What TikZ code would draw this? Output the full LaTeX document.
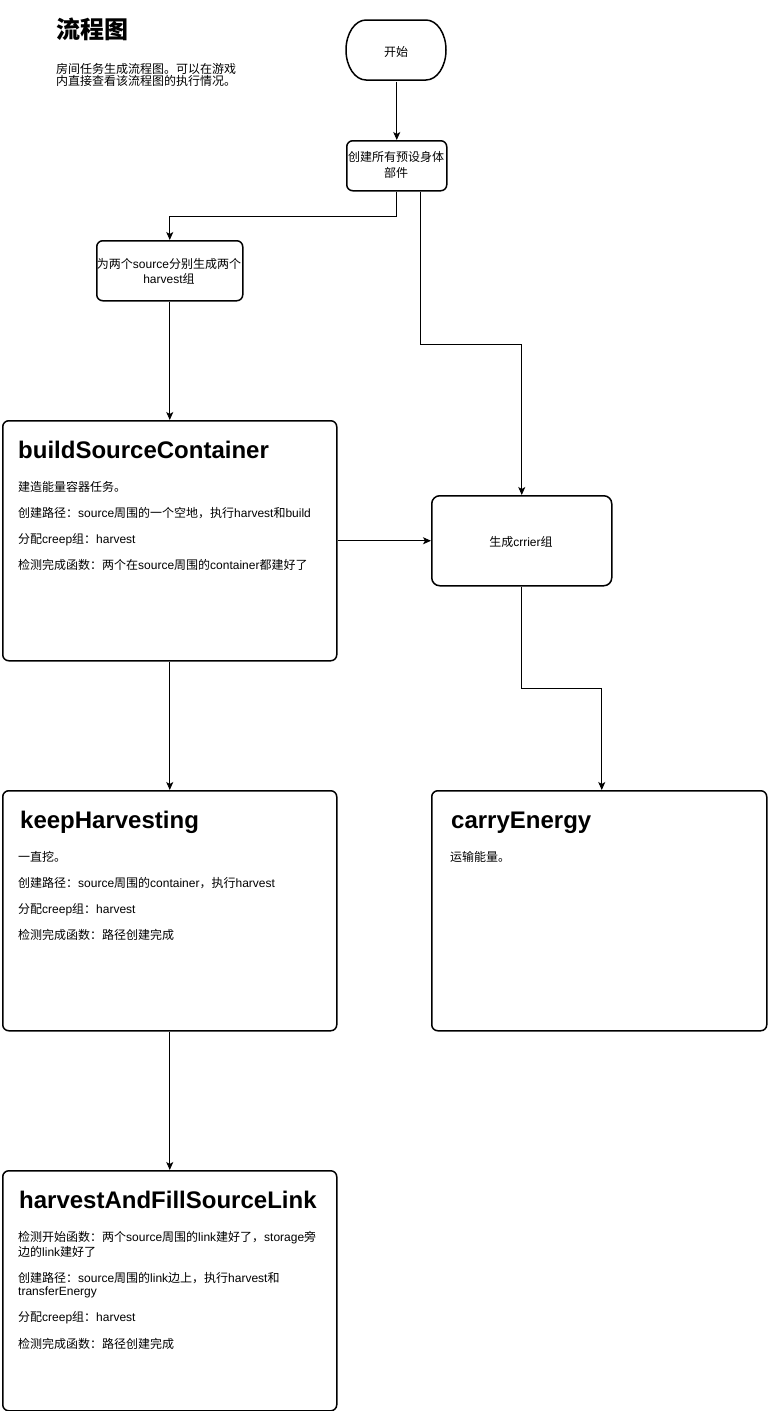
\documentclass[tikz,border=0pt]{standalone}
\usepackage{fontspec}
\setmainfont{Liberation Sans}
\newfontfamily\cjkfont{Noto Sans CJK SC}
\usetikzlibrary{arrows.meta}
\XeTeXinterchartokenstate=1
\newXeTeXintercharclass\cjkclass
\newcount\cjkc
\def\setcjkrange#1#2{\cjkc=#1 \loop \XeTeXcharclass\cjkc=\cjkclass \ifnum\cjkc<#2 \advance\cjkc by 1 \repeat}
\setcjkrange{"4E00}{"9FFF}
\setcjkrange{"3000}{"303F}
\setcjkrange{"FF00}{"FFEF}
\XeTeXinterchartoks 0 \cjkclass = {\cjkfont}
\XeTeXinterchartoks 4095 \cjkclass = {\cjkfont}
\XeTeXinterchartoks \cjkclass 0 = {\rmfamily}
\XeTeXinterchartoks \cjkclass 4095 = {\rmfamily}
\begin{document}
\begin{tikzpicture}[x=1pt,y=-1pt,
  box/.style={draw, line width=1.5pt, rounded corners=6pt, inner sep=0pt, anchor=north west},
  outline/.style={line width=1.5pt},
  conn/.style={line width=0.9pt, -{Stealth[length=8pt,width=7pt,inset=2pt]}},
  body/.style={anchor=base west, inner sep=0pt, font=\fontsize{12}{14}\selectfont},
  head/.style={anchor=base west, inner sep=0pt, font=\fontsize{24}{28}\selectfont\bfseries},
  lbl/.style={anchor=base, inner sep=0pt, font=\fontsize{12}{14}\selectfont}]
\useasboundingbox (0,0) rectangle (768,1411);

% heading
\node[anchor=base west, inner sep=0pt] (title) at (56,38.5) {\XeTeXinterchartokenstate=0 \cjkfont\bfseries\fontsize{24}{28}\selectfont 流程图};
\node[body] (d1) at (56,73) {房间任务生成流程图。可以在游戏};
\node[body] (d2) at (56,85) {内直接查看该流程图的执行情况。};

% boxes
\node[box, draw=none, minimum width=100pt, minimum height=60pt] (start) at (346,20) {};
\draw[outline] (366,20) -- (426,20)
  .. controls (437,20) and (446,33.4) .. (446,50)
  .. controls (446,66.6) and (437,80) .. (426,80)
  -- (366,80)
  .. controls (355,80) and (346,66.6) .. (346,50)
  .. controls (346,33.4) and (355,20) .. (366,20) -- cycle;
\node[box, minimum width=100pt, minimum height=50pt] (create) at (346,140) {};
\node[box, minimum width=146pt, minimum height=60pt] (split) at (96,240) {};
\node[box, minimum width=180pt, minimum height=90pt, rounded corners=8pt] (carrier) at (431,495) {};
\node[box, minimum width=334pt, minimum height=240pt] (bsc) at (2,420) {};
\node[box, minimum width=334pt, minimum height=240pt] (keep) at (2,790) {};
\node[box, minimum width=335pt, minimum height=240pt] (carry) at (431,790) {};
\node[box, minimum width=334pt, minimum height=240pt] (hafl) at (2,1170) {};

% small box labels
\node[lbl] (tstart) at (396,56) {开始};
\node[lbl] (tc1) at (396,161) {创建所有预设身体};
\node[lbl] (tc2) at (396,177.5) {部件};
\node[lbl] (ts1) at (169,268) {为两个source分别生成两个};
\node[lbl] (ts2) at (169,283) {harvest组};
\node[lbl] (tcar) at (521,546) {生成crrier组};

% buildSourceContainer
\node[head] (h1) at (18,458.5) {buildSourceContainer};
\node[body] (b11) at (18,491) {建造能量容器任务。};
\node[body] (b12) at (18,517) {创建路径：source周围的一个空地，执行harvest和build};
\node[body] (b13) at (18,543.5) {分配creep组：harvest};
\node[body] (b14) at (18,569) {检测完成函数：两个在source周围的container都建好了};

% keepHarvesting
\node[head] (h2) at (20,828.5) {keepHarvesting};
\node[body] (b21) at (18,861) {一直挖。};
\node[body] (b22) at (18,887) {创建路径：source周围的container，执行harvest};
\node[body] (b23) at (18,913.5) {分配creep组：harvest};
\node[body] (b24) at (18,939) {检测完成函数：路径创建完成};

% carryEnergy
\node[head] (h3) at (451,828.5) {carryEnergy};
\node[body] (b31) at (450,861) {运输能量。};

% harvestAndFillSourceLink
\node[head] (h4) at (19,1208.5) {harvestAndFillSourceLink};
\node[body] (b41) at (18,1241) {检测开始函数：两个source周围的link建好了，storage旁};
\node[body] (b42) at (18,1256) {边的link建好了};
\node[body] (b43) at (18,1282) {创建路径：source周围的link边上，执行harvest和};
\node[body] (b44) at (18,1295.5) {transferEnergy};
\node[body] (b45) at (18,1321) {分配creep组：harvest};
\node[body] (b46) at (18,1348) {检测完成函数：路径创建完成};

% connectors
\draw[conn] (start.south) -- (create.north);
\draw[conn] (create.south) -- ++(0,25) -| (split.north);
\draw[conn] ([xshift=24pt]create.south) -- ++(0,153) -| (carrier.north);
\draw[conn] (split.south) -- (bsc.north);
\draw[conn] (bsc.east) -- (carrier.west);
\draw[conn] (bsc.south) -- (keep.north);
\draw[conn] (carrier.south) -- ++(0,102) -| ([xshift=2.5pt]carry.north);
\draw[conn] (keep.south) -- (hafl.north);
\end{tikzpicture}
\end{document}
